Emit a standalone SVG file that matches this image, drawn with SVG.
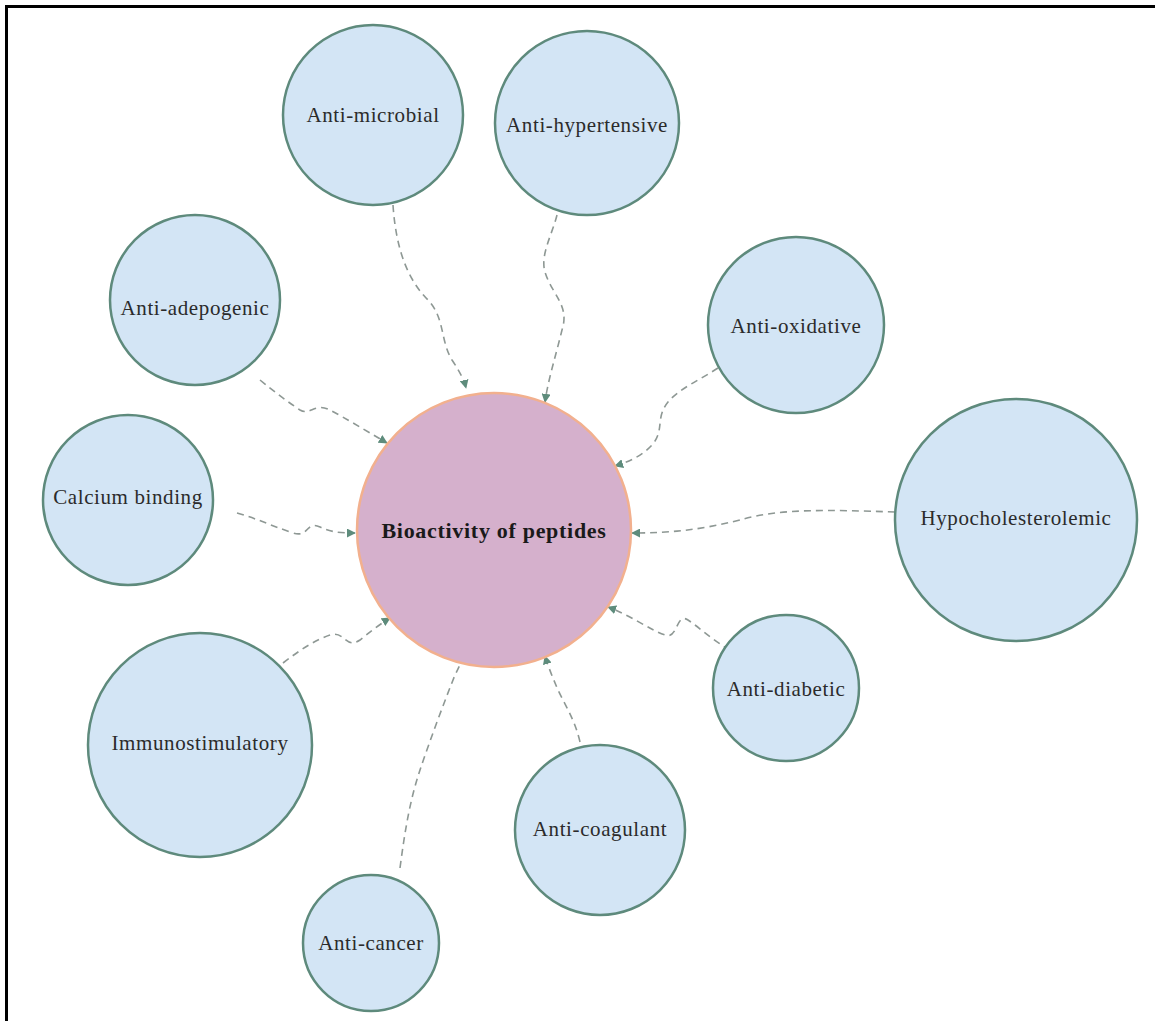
<svg xmlns="http://www.w3.org/2000/svg" width="1155" height="1021" viewBox="0 0 1155 1021">
<defs>
<marker id="arr" viewBox="0 0 10 10" refX="9" refY="5" markerWidth="9" markerHeight="9" markerUnits="userSpaceOnUse" orient="auto">
<path d="M0,0 L10,5 L0,10 z" fill="#5e8c7c"/>
</marker>
<style>
.n{fill:#d3e5f5;stroke:#5e8a7c;stroke-width:2.5}
.c{fill:#d5b0cc;stroke:#f2b08e;stroke-width:2.5}
.t{font-family:"Liberation Serif","Times New Roman",serif;font-size:21px;letter-spacing:0.6px;fill:#2b2b2b;text-anchor:middle;dominant-baseline:middle}
.tb{font-family:"Liberation Serif","Times New Roman",serif;font-size:22px;letter-spacing:0.7px;font-weight:bold;fill:#1a1a1a;text-anchor:middle;dominant-baseline:middle}
.e{fill:none;stroke:#8e9894;stroke-width:1.6;stroke-dasharray:7 5;marker-end:url(#arr)}
</style>
</defs>
<rect width="1155" height="1021" fill="#fff"/>
<path d="M6.5,1021 V6.5 H1155" fill="none" stroke="#000" stroke-width="3"/>
<g id="connectors">
<path class="e" d="M393,205 C396,250 408,280 428,300 C445,318 440,340 452,360 C460,372 464,380 466,388"/>
<path class="e" d="M557,215 C552,235 540,255 545,272 C552,295 570,305 562,330 C556,355 548,380 545,402"/>
<path class="e" d="M718,368 C700,380 680,388 668,402 C655,418 665,430 652,445 C642,456 628,462 615,466"/>
<path class="e" d="M895,512 C830,510 780,508 740,520 C700,530 670,533 632,533"/>
<path class="e" d="M730,650 C712,640 700,628 688,620 C676,612 678,640 665,635 C650,630 630,615 608,607"/>
<path class="e" d="M580,742 C575,720 565,705 558,690 C552,676 548,666 545,656"/>
<path class="e" d="M400,868 C405,830 410,800 420,770 C430,740 445,700 455,675 C460,665 463,658 466,651"/>
<path class="e" d="M283,663 C300,650 315,640 330,635 C345,630 345,650 360,640 C370,632 380,624 390,618"/>
<path class="e" d="M237,513 C255,518 270,525 290,532 C310,540 305,520 320,527 C330,532 340,533 355,533"/>
<path class="e" d="M260,380 C275,392 285,400 300,410 C310,416 315,402 330,410 C345,418 365,430 387,443"/>
</g>
<g id="center"><circle class="c" cx="494" cy="530" r="137"/><text class="tb" x="494" y="533">Bioactivity of peptides</text></g>
<g id="anti-microbial"><circle class="n" cx="373" cy="115" r="90"/><text class="t" x="373" y="117">Anti-microbial</text></g>
<g id="anti-hypertensive"><circle class="n" cx="587" cy="123" r="92"/><text class="t" x="587" y="127">Anti-hypertensive</text></g>
<g id="anti-adepogenic"><circle class="n" cx="195" cy="300" r="85"/><text class="t" x="195" y="310">Anti-adepogenic</text></g>
<g id="anti-oxidative"><circle class="n" cx="796" cy="325" r="88"/><text class="t" x="796" y="328">Anti-oxidative</text></g>
<g id="calcium-binding"><circle class="n" cx="128" cy="500" r="85"/><text class="t" x="128" y="499">Calcium binding</text></g>
<g id="hypocholesterolemic"><circle class="n" cx="1016" cy="520" r="121"/><text class="t" x="1016" y="520">Hypocholesterolemic</text></g>
<g id="anti-diabetic"><circle class="n" cx="786" cy="688" r="73"/><text class="t" x="786" y="691">Anti-diabetic</text></g>
<g id="immunostimulatory"><circle class="n" cx="200" cy="745" r="112"/><text class="t" x="200" y="745">Immunostimulatory</text></g>
<g id="anti-coagulant"><circle class="n" cx="600" cy="830" r="85"/><text class="t" x="600" y="831">Anti-coagulant</text></g>
<g id="anti-cancer"><circle class="n" cx="371" cy="943" r="68"/><text class="t" x="371" y="945">Anti-cancer</text></g>
</svg>
